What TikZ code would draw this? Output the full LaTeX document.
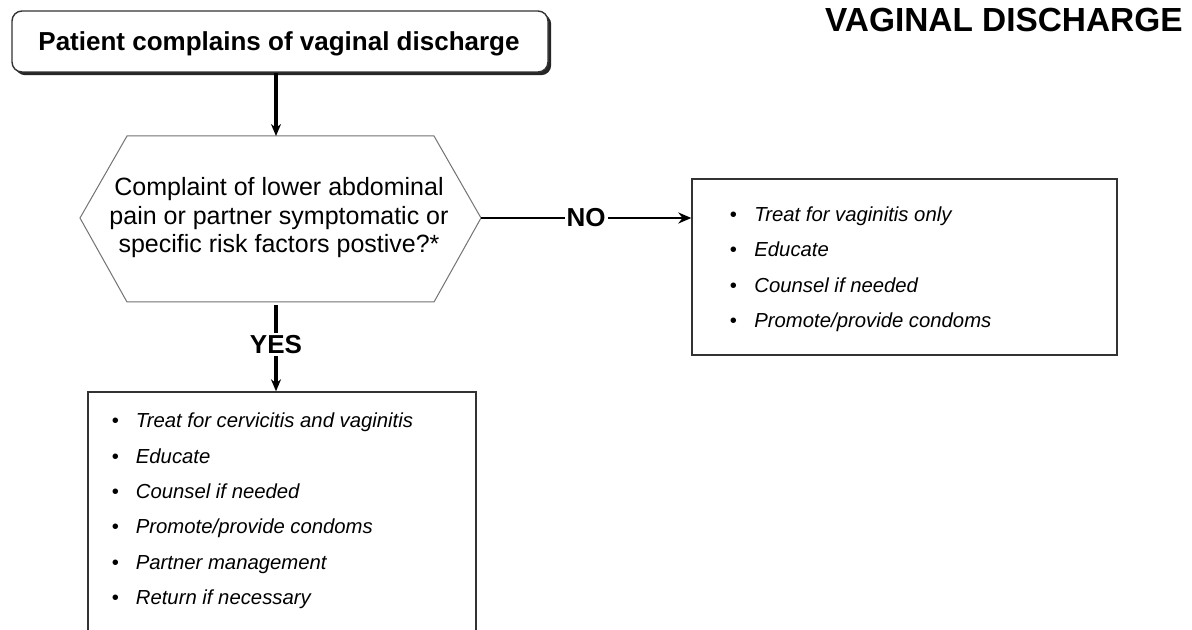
\documentclass[tikz,border=0pt]{standalone}
\usepackage{fontspec}
\setmainfont{Liberation Sans}
\usetikzlibrary{arrows.meta,fit,shadows}
\begin{document}
\begin{tikzpicture}[x=0.5pt,y=-0.5pt,
  boxframe/.style={draw=black!80, line width=0.7pt, inner sep=0pt},
  flow/.style={line width=1.75pt, -{Stealth[length=6pt,width=5pt]}},
  item/.style={anchor=base west, inner sep=0pt, font=\fontsize{10.15}{12}\selectfont\itshape},
  lbl/.style={font=\fontsize{13}{15}\selectfont\bfseries, fill=white, inner sep=1pt},
]
\clip (0,0) rectangle (1192,630);
\fill[white] (0,0) rectangle (1192,630);

\node[anchor=base east, inner sep=0pt, font=\fontsize{16.7}{19}\selectfont\bfseries] (title) at (1183,32) {VAGINAL DISCHARGE};

\node[boxframe, rounded corners=5pt, fill=white,
      drop shadow={shadow xshift=1.6pt, shadow yshift=-1.6pt, fill=black!85, opacity=1},
      fit={(12,11)(548,72)}] (start) {};
\node[anchor=base, inner sep=0pt, font=\fontsize{13}{15}\selectfont\bfseries] (starttext) at (279,51) {Patient complains of vaginal discharge};

\coordinate (hT) at (276,136);
\coordinate (hB) at (276,302);
\coordinate (hL) at (80,218);
\coordinate (hR) at (481,218);
\draw[draw=black!55, line width=0.5pt] (127,136) -- (434,136) -- (hR) -- (434,302) -- (127,302) -- (hL) -- cycle;
\node[align=center, inner sep=0pt, font=\fontsize{12.5}{14.25}\selectfont] (q) at (279,218) {Complaint of lower abdominal\\pain or partner symptomatic or\\specific risk factors postive?*};

\node[boxframe, fit={(692,179)(1117,355)}] (nobox) {};
\node[boxframe, fit={(88,392)(476,660)}] (yesbox) {};

\draw[flow] (start.south -| hT) -- (hT);
\draw[line width=1.4pt, -{Stealth[length=6.5pt,width=5.5pt]}] (hR) -- node[lbl]{NO} (nobox.west |- hR);
\coordinate (yS) at (276,305);
\draw[flow] (yS) -- node[lbl, pos=0.46]{YES} (yesbox.north -| yS);

\node[item] (n1) at (729.5,221.5) {\makebox[12.25pt][l]{\upshape\textbullet}Treat for vaginitis only};
\node[item] (n2) at (729.5,257) {\makebox[12.25pt][l]{\upshape\textbullet}Educate};
\node[item] (n3) at (729.5,292.5) {\makebox[12.25pt][l]{\upshape\textbullet}Counsel if needed};
\node[item] (n4) at (729.5,328) {\makebox[12.25pt][l]{\upshape\textbullet}Promote/provide condoms};

\node[item] (y1) at (111.5,427) {\makebox[12pt][l]{\upshape\textbullet}Treat for cervicitis and vaginitis};
\node[item] (y2) at (111.5,463) {\makebox[12pt][l]{\upshape\textbullet}Educate};
\node[item] (y3) at (111.5,498) {\makebox[12pt][l]{\upshape\textbullet}Counsel if needed};
\node[item] (y4) at (111.5,533) {\makebox[12pt][l]{\upshape\textbullet}Promote/provide condoms};
\node[item] (y5) at (111.5,569) {\makebox[12pt][l]{\upshape\textbullet}Partner management};
\node[item] (y6) at (111.5,604) {\makebox[12pt][l]{\upshape\textbullet}Return if necessary};
\end{tikzpicture}
\end{document}
